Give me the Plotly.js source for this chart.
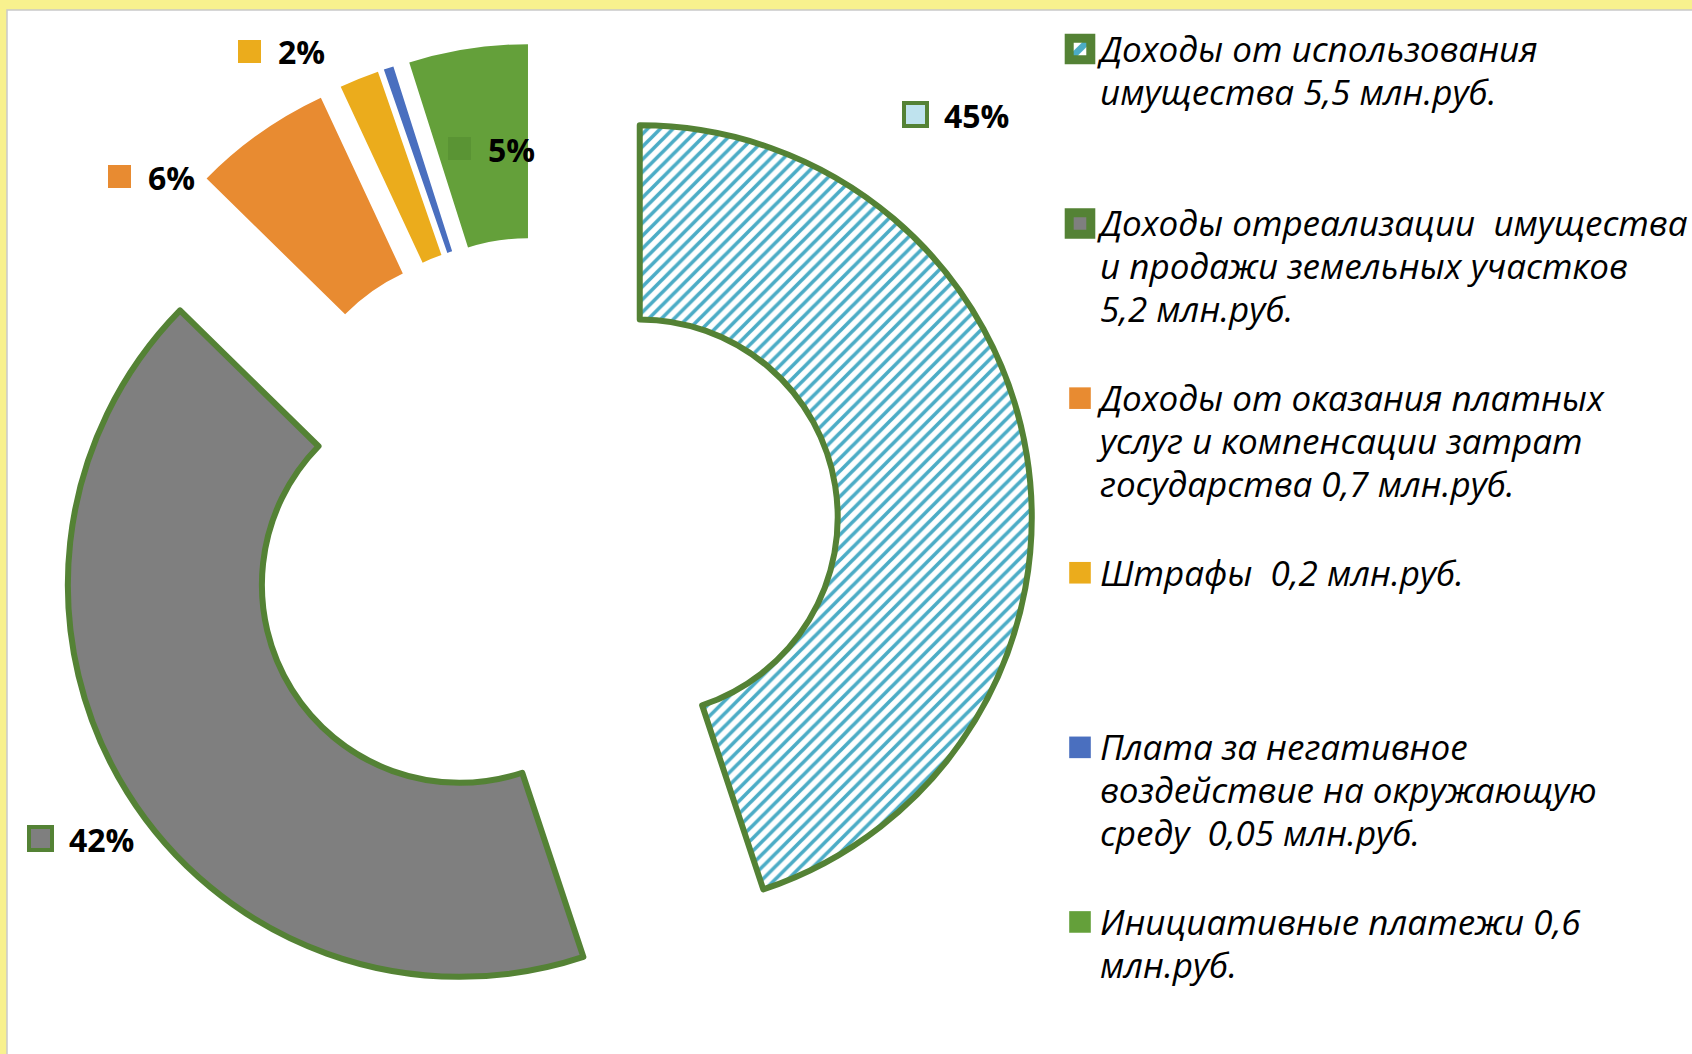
<!DOCTYPE html>
<html>
<head>
<meta charset="utf-8">
<script src="https://cdn.plot.ly/plotly-3.0.1.min.js"></script>
<style>
    html, body { margin: 0; padding: 0; background: #f8f18e; }
    #chart { width: 1692px; height: 1054px; }
</style>
</head>
<body>
<div id="chart"></div>
<script>
// Структура неналоговых доходов (кольцевая диаграмма)

var categories = [
    'Доходы от использования<br>имущества 5,5 млн.руб.',
    'Доходы отреализации  имущества<br>и продажи земельных участков<br>5,2 млн.руб.',
    'Доходы от оказания платных<br>услуг и компенсации затрат<br>государства 0,7 млн.руб.',
    'Штрафы  0,2 млн.руб.',
    'Плата за негативное<br>воздействие на окружающую<br>среду  0,05 млн.руб.',
    'Инициативные платежи 0,6<br>млн.руб.'
];
var values = [5.5, 5.2, 0.7, 0.2, 0.05, 0.6];
var showPercent = [true, true, true, true, false, true];

// оформление
var W = 1692, H = 1054;
var colors = ['#4bacc6', '#7f7f7f', '#e88b31', '#ebac1c', '#4a6fbf', '#64a03a'];
var keyColors = ['#bfe3ee', '#7f7f7f', '#e88b31', '#ebac1c', '#4a6fbf', '#5a9434'];
var edge = '#548235';
var outlined = [true, true, false, false, false, false];
// где стоят подписи процентов (левый край текста, середина по высоте), px
var labelPos = [[942, 115], [67, 839], [146, 177], [276, 52], null, [486, 149]];

var pieCx = 543, pieCy = 533, pieHalf = 490;

function px(x) { return x / W; }
function py(y) { return 1 - y / H; }

var total = values.reduce(function (a, b) { return a + b; }, 0);

// подписи легенды добиваем до 4 строк, чтобы шаг между пунктами был одинаковый;
// сам текст чуть крупнее шрифта легенды (шаг считается по 33px)
var legendLabels = categories.map(function (c, i) {
    var lines = c.split('<br>');
    if (i < categories.length - 1) {
        while (lines.length < 4) lines.push('\u00a0');
    }
    return lines.map(function (l) {
        return '<span style="font-size:35px">' + l + '</span>';
    }).join('<br>');
});

var trace = {
    type: 'pie',
    labels: legendLabels,
    values: values,
    sort: false,
    direction: 'clockwise',
    rotation: 0,
    hole: 0.505,
    pull: values.map(function () { return 0.25; }),
    textinfo: 'none',
    hoverinfo: 'percent',
    domain: {
        x: [px(pieCx - pieHalf), px(pieCx + pieHalf)],
        y: [py(pieCy + pieHalf), py(pieCy - pieHalf)]
    },
    marker: {
        colors: colors,
        line: {
            color: outlined.map(function (o) { return o ? edge : 'rgba(0,0,0,0)'; }),
            width: outlined.map(function (o) { return o ? 6 : 0; })
        },
        pattern: {
            shape: outlined.map(function (o, i) { return i === 0 ? '/' : ''; }),
            fgcolor: '#4bacc6',
            bgcolor: 'white',
            size: 9,
            solidity: 0.4
        }
    }
};

var shapes = [{
    type: 'rect', xref: 'paper', yref: 'paper', layer: 'below',
    x0: px(7), x1: 1.01, y0: -0.01, y1: py(10),
    fillcolor: 'white', line: { color: '#c9c9c9', width: 1.5 }
}];
var annotations = [];

values.forEach(function (v, i) {
    if (!showPercent[i] || !labelPos[i]) return;
    var lx = labelPos[i][0], ly = labelPos[i][1];
    annotations.push({
        xref: 'paper', yref: 'paper', x: px(lx), y: py(ly),
        xanchor: 'left', yanchor: 'middle', showarrow: false,
        text: '<b>' + Math.round(v / total * 100) + '%</b>',
        font: { family: 'Open Sans', size: 32, color: '#000' }
    });
    shapes.push({
        type: 'rect', xref: 'paper', yref: 'paper',
        x0: px(lx - 38), x1: px(lx - 15), y0: py(ly + 11), y1: py(ly - 12),
        fillcolor: keyColors[i],
        line: { color: outlined[i] ? edge : keyColors[i], width: outlined[i] ? 4 : 0 }
    });
});

var layout = {
    width: W,
    height: H,
    margin: { l: 0, r: 0, t: 0, b: 0, autoexpand: false },
    paper_bgcolor: '#f8f18e',
    showlegend: true,
    legend: {
        x: px(1060), xanchor: 'left',
        y: py(21), yanchor: 'top',
        valign: 'top',
        traceorder: 'normal',
        bgcolor: 'rgba(0,0,0,0)',
        font: { family: 'Open Sans', size: 33, color: '#000', style: 'italic' }
    },
    shapes: shapes,
    annotations: annotations
};

Plotly.newPlot('chart', [trace], layout, { displayModeBar: false }).then(function () {
    // квадратики легенды крупнее, как в оригинале
    document.querySelectorAll('#chart .legendpie').forEach(function (p) {
        p.setAttribute('transform', 'translate(20,0) scale(1.8)');
    });
});
</script>
</body>
</html>
